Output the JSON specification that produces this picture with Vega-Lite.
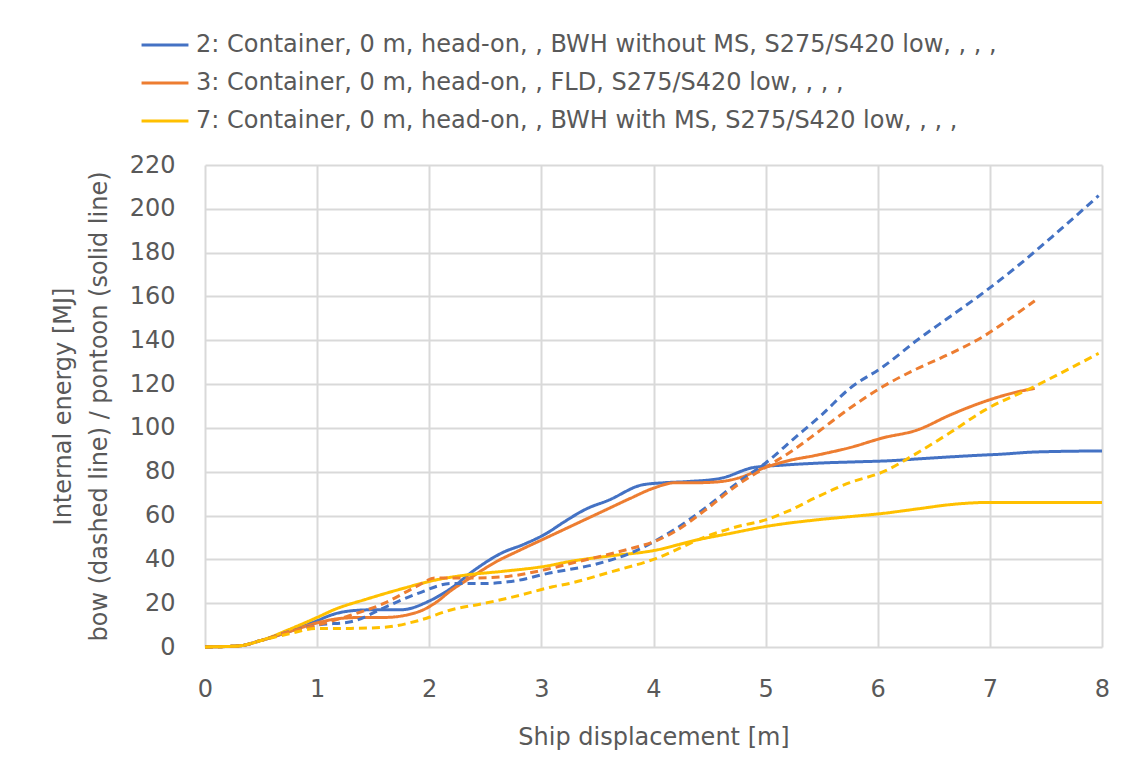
{
  "$schema": "https://vega.github.io/schema/vega-lite/v6.json",
  "width": 897,
  "height": 482,
  "autosize": {"type": "none"},
  "padding": {"left": 205, "top": 165, "right": 28, "bottom": 115},
  "background": "white",
  "config": {
    "font": "DejaVu Sans",
    "view": {"stroke": null},
    "axis": {
      "labelFont": "DejaVu Sans",
      "titleFont": "DejaVu Sans",
      "labelColor": "#595959",
      "titleColor": "#595959",
      "labelFontSize": 24,
      "titleFontSize": 24,
      "titleFontWeight": "normal",
      "gridColor": "#d9d9d9",
      "gridWidth": 2,
      "tickSize": 0,
      "domain": false,
      "labelFlush": false
    },
    "legend": {
      "labelFont": "DejaVu Sans",
      "labelColor": "#595959",
      "labelFontSize": 24
    }
  },
  "data": {
    "values": [
      {"s": "2", "p": "pontoon", "x": 0, "y": 0},
      {"s": "2", "p": "pontoon", "x": 0.3, "y": 0.5},
      {"s": "2", "p": "pontoon", "x": 0.5, "y": 3},
      {"s": "2", "p": "pontoon", "x": 0.75, "y": 7},
      {"s": "2", "p": "pontoon", "x": 1.0, "y": 12},
      {"s": "2", "p": "pontoon", "x": 1.15, "y": 15},
      {"s": "2", "p": "pontoon", "x": 1.3, "y": 16.5},
      {"s": "2", "p": "pontoon", "x": 1.5, "y": 17},
      {"s": "2", "p": "pontoon", "x": 1.75, "y": 17},
      {"s": "2", "p": "pontoon", "x": 2.0, "y": 21},
      {"s": "2", "p": "pontoon", "x": 2.2, "y": 27},
      {"s": "2", "p": "pontoon", "x": 2.4, "y": 35},
      {"s": "2", "p": "pontoon", "x": 2.65, "y": 43},
      {"s": "2", "p": "pontoon", "x": 2.85, "y": 47},
      {"s": "2", "p": "pontoon", "x": 3.05, "y": 52},
      {"s": "2", "p": "pontoon", "x": 3.2, "y": 57},
      {"s": "2", "p": "pontoon", "x": 3.4, "y": 63},
      {"s": "2", "p": "pontoon", "x": 3.6, "y": 67},
      {"s": "2", "p": "pontoon", "x": 3.9, "y": 74},
      {"s": "2", "p": "pontoon", "x": 4.1, "y": 75},
      {"s": "2", "p": "pontoon", "x": 4.3, "y": 75.5},
      {"s": "2", "p": "pontoon", "x": 4.6, "y": 77},
      {"s": "2", "p": "pontoon", "x": 4.9, "y": 82},
      {"s": "2", "p": "pontoon", "x": 5.15, "y": 83},
      {"s": "2", "p": "pontoon", "x": 5.5, "y": 84},
      {"s": "2", "p": "pontoon", "x": 5.8, "y": 84.5},
      {"s": "2", "p": "pontoon", "x": 6.1, "y": 85},
      {"s": "2", "p": "pontoon", "x": 6.4, "y": 86},
      {"s": "2", "p": "pontoon", "x": 6.9, "y": 87.5},
      {"s": "2", "p": "pontoon", "x": 7.1, "y": 88},
      {"s": "2", "p": "pontoon", "x": 7.4, "y": 89},
      {"s": "2", "p": "pontoon", "x": 8.0, "y": 89.5},

      {"s": "3", "p": "pontoon", "x": 0, "y": 0},
      {"s": "3", "p": "pontoon", "x": 0.3, "y": 0.5},
      {"s": "3", "p": "pontoon", "x": 0.5, "y": 3},
      {"s": "3", "p": "pontoon", "x": 0.75, "y": 7},
      {"s": "3", "p": "pontoon", "x": 1.0, "y": 11},
      {"s": "3", "p": "pontoon", "x": 1.2, "y": 13},
      {"s": "3", "p": "pontoon", "x": 1.4, "y": 13.5},
      {"s": "3", "p": "pontoon", "x": 1.6, "y": 13.5},
      {"s": "3", "p": "pontoon", "x": 1.9, "y": 16},
      {"s": "3", "p": "pontoon", "x": 2.05, "y": 20},
      {"s": "3", "p": "pontoon", "x": 2.2, "y": 26},
      {"s": "3", "p": "pontoon", "x": 2.35, "y": 31},
      {"s": "3", "p": "pontoon", "x": 2.6, "y": 39},
      {"s": "3", "p": "pontoon", "x": 2.8, "y": 44},
      {"s": "3", "p": "pontoon", "x": 3.05, "y": 50},
      {"s": "3", "p": "pontoon", "x": 3.3, "y": 56},
      {"s": "3", "p": "pontoon", "x": 3.55, "y": 62},
      {"s": "3", "p": "pontoon", "x": 3.8, "y": 68},
      {"s": "3", "p": "pontoon", "x": 4.0, "y": 72.5},
      {"s": "3", "p": "pontoon", "x": 4.2, "y": 75},
      {"s": "3", "p": "pontoon", "x": 4.4, "y": 75},
      {"s": "3", "p": "pontoon", "x": 4.6, "y": 75.5},
      {"s": "3", "p": "pontoon", "x": 4.75, "y": 77},
      {"s": "3", "p": "pontoon", "x": 5.0, "y": 82},
      {"s": "3", "p": "pontoon", "x": 5.2, "y": 85},
      {"s": "3", "p": "pontoon", "x": 5.45, "y": 87.5},
      {"s": "3", "p": "pontoon", "x": 5.75, "y": 91},
      {"s": "3", "p": "pontoon", "x": 6.05, "y": 95.5},
      {"s": "3", "p": "pontoon", "x": 6.35, "y": 99},
      {"s": "3", "p": "pontoon", "x": 6.65, "y": 106},
      {"s": "3", "p": "pontoon", "x": 6.95, "y": 112},
      {"s": "3", "p": "pontoon", "x": 7.25, "y": 116.5},
      {"s": "3", "p": "pontoon", "x": 7.4, "y": 118},

      {"s": "7", "p": "pontoon", "x": 0, "y": 0},
      {"s": "7", "p": "pontoon", "x": 0.3, "y": 0.5},
      {"s": "7", "p": "pontoon", "x": 0.5, "y": 3},
      {"s": "7", "p": "pontoon", "x": 0.75, "y": 8},
      {"s": "7", "p": "pontoon", "x": 1.0, "y": 13.5},
      {"s": "7", "p": "pontoon", "x": 1.15, "y": 17},
      {"s": "7", "p": "pontoon", "x": 1.45, "y": 22},
      {"s": "7", "p": "pontoon", "x": 1.75, "y": 26.5},
      {"s": "7", "p": "pontoon", "x": 2.05, "y": 30.5},
      {"s": "7", "p": "pontoon", "x": 2.35, "y": 33},
      {"s": "7", "p": "pontoon", "x": 2.65, "y": 34.5},
      {"s": "7", "p": "pontoon", "x": 3.05, "y": 37},
      {"s": "7", "p": "pontoon", "x": 3.25, "y": 39},
      {"s": "7", "p": "pontoon", "x": 3.6, "y": 41.5},
      {"s": "7", "p": "pontoon", "x": 4.0, "y": 44},
      {"s": "7", "p": "pontoon", "x": 4.4, "y": 49},
      {"s": "7", "p": "pontoon", "x": 4.7, "y": 52},
      {"s": "7", "p": "pontoon", "x": 5.0, "y": 55},
      {"s": "7", "p": "pontoon", "x": 5.45, "y": 58},
      {"s": "7", "p": "pontoon", "x": 5.75, "y": 59.5},
      {"s": "7", "p": "pontoon", "x": 6.05, "y": 61},
      {"s": "7", "p": "pontoon", "x": 6.35, "y": 63},
      {"s": "7", "p": "pontoon", "x": 6.65, "y": 65},
      {"s": "7", "p": "pontoon", "x": 7.0, "y": 66},
      {"s": "7", "p": "pontoon", "x": 8.0, "y": 66},

      {"s": "2", "p": "bow", "x": 0, "y": 0},
      {"s": "2", "p": "bow", "x": 0.3, "y": 0.5},
      {"s": "2", "p": "bow", "x": 0.5, "y": 3},
      {"s": "2", "p": "bow", "x": 0.75, "y": 7},
      {"s": "2", "p": "bow", "x": 1.0, "y": 10},
      {"s": "2", "p": "bow", "x": 1.3, "y": 11.5},
      {"s": "2", "p": "bow", "x": 1.6, "y": 18},
      {"s": "2", "p": "bow", "x": 1.9, "y": 24.5},
      {"s": "2", "p": "bow", "x": 2.2, "y": 29},
      {"s": "2", "p": "bow", "x": 2.5, "y": 29},
      {"s": "2", "p": "bow", "x": 2.8, "y": 30.5},
      {"s": "2", "p": "bow", "x": 3.05, "y": 33.5},
      {"s": "2", "p": "bow", "x": 3.5, "y": 38},
      {"s": "2", "p": "bow", "x": 3.8, "y": 43},
      {"s": "2", "p": "bow", "x": 4.0, "y": 48},
      {"s": "2", "p": "bow", "x": 4.2, "y": 54},
      {"s": "2", "p": "bow", "x": 4.45, "y": 63},
      {"s": "2", "p": "bow", "x": 4.75, "y": 75},
      {"s": "2", "p": "bow", "x": 5.0, "y": 84},
      {"s": "2", "p": "bow", "x": 5.25, "y": 95},
      {"s": "2", "p": "bow", "x": 5.5, "y": 106},
      {"s": "2", "p": "bow", "x": 5.75, "y": 118},
      {"s": "2", "p": "bow", "x": 6.05, "y": 128},
      {"s": "2", "p": "bow", "x": 6.35, "y": 140},
      {"s": "2", "p": "bow", "x": 6.65, "y": 151},
      {"s": "2", "p": "bow", "x": 6.95, "y": 162},
      {"s": "2", "p": "bow", "x": 7.25, "y": 174},
      {"s": "2", "p": "bow", "x": 7.55, "y": 187},
      {"s": "2", "p": "bow", "x": 7.97, "y": 206},

      {"s": "3", "p": "bow", "x": 0, "y": 0},
      {"s": "3", "p": "bow", "x": 0.3, "y": 0.5},
      {"s": "3", "p": "bow", "x": 0.5, "y": 3},
      {"s": "3", "p": "bow", "x": 0.75, "y": 7},
      {"s": "3", "p": "bow", "x": 1.0, "y": 10},
      {"s": "3", "p": "bow", "x": 1.3, "y": 14.5},
      {"s": "3", "p": "bow", "x": 1.6, "y": 20},
      {"s": "3", "p": "bow", "x": 1.9, "y": 28},
      {"s": "3", "p": "bow", "x": 2.05, "y": 31.5},
      {"s": "3", "p": "bow", "x": 2.35, "y": 31.5},
      {"s": "3", "p": "bow", "x": 2.65, "y": 32},
      {"s": "3", "p": "bow", "x": 3.05, "y": 35.5},
      {"s": "3", "p": "bow", "x": 3.25, "y": 38},
      {"s": "3", "p": "bow", "x": 3.8, "y": 45},
      {"s": "3", "p": "bow", "x": 4.0, "y": 48},
      {"s": "3", "p": "bow", "x": 4.2, "y": 53},
      {"s": "3", "p": "bow", "x": 4.45, "y": 62},
      {"s": "3", "p": "bow", "x": 4.75, "y": 74},
      {"s": "3", "p": "bow", "x": 5.0, "y": 82},
      {"s": "3", "p": "bow", "x": 5.25, "y": 90},
      {"s": "3", "p": "bow", "x": 5.45, "y": 97.5},
      {"s": "3", "p": "bow", "x": 5.75, "y": 109},
      {"s": "3", "p": "bow", "x": 6.05, "y": 119},
      {"s": "3", "p": "bow", "x": 6.35, "y": 127},
      {"s": "3", "p": "bow", "x": 6.65, "y": 134},
      {"s": "3", "p": "bow", "x": 6.95, "y": 142},
      {"s": "3", "p": "bow", "x": 7.25, "y": 152.5},
      {"s": "3", "p": "bow", "x": 7.4, "y": 158},

      {"s": "7", "p": "bow", "x": 0, "y": 0},
      {"s": "7", "p": "bow", "x": 0.3, "y": 0.5},
      {"s": "7", "p": "bow", "x": 0.5, "y": 3},
      {"s": "7", "p": "bow", "x": 0.75, "y": 6},
      {"s": "7", "p": "bow", "x": 1.0, "y": 8.5},
      {"s": "7", "p": "bow", "x": 1.3, "y": 8.5},
      {"s": "7", "p": "bow", "x": 1.6, "y": 9},
      {"s": "7", "p": "bow", "x": 1.9, "y": 12},
      {"s": "7", "p": "bow", "x": 2.2, "y": 17},
      {"s": "7", "p": "bow", "x": 2.5, "y": 20},
      {"s": "7", "p": "bow", "x": 2.8, "y": 23.5},
      {"s": "7", "p": "bow", "x": 3.1, "y": 27.5},
      {"s": "7", "p": "bow", "x": 3.25, "y": 29},
      {"s": "7", "p": "bow", "x": 3.6, "y": 34},
      {"s": "7", "p": "bow", "x": 4.0, "y": 40},
      {"s": "7", "p": "bow", "x": 4.5, "y": 51},
      {"s": "7", "p": "bow", "x": 4.75, "y": 55},
      {"s": "7", "p": "bow", "x": 5.0, "y": 58},
      {"s": "7", "p": "bow", "x": 5.2, "y": 62},
      {"s": "7", "p": "bow", "x": 5.46, "y": 68.5},
      {"s": "7", "p": "bow", "x": 5.75, "y": 75},
      {"s": "7", "p": "bow", "x": 6.05, "y": 80},
      {"s": "7", "p": "bow", "x": 6.35, "y": 88.5},
      {"s": "7", "p": "bow", "x": 6.65, "y": 98},
      {"s": "7", "p": "bow", "x": 6.95, "y": 108},
      {"s": "7", "p": "bow", "x": 7.4, "y": 119},
      {"s": "7", "p": "bow", "x": 7.97, "y": 134}
    ]
  },
  "mark": {"type": "line", "strokeWidth": 3, "interpolate": "monotone"},
  "encoding": {
    "x": {
      "field": "x",
      "type": "quantitative",
      "scale": {"domain": [0, 8], "nice": false},
      "axis": {
        "title": "Ship displacement [m]",
        "values": [0, 1, 2, 3, 4, 5, 6, 7, 8],
        "grid": true,
        "labelPadding": 30,
        "titlePadding": 24
      }
    },
    "y": {
      "field": "y",
      "type": "quantitative",
      "scale": {"domain": [0, 220], "nice": false},
      "axis": {
        "title": ["Internal energy [MJ]", "bow (dashed line) / pontoon (solid line)"],
        "values": [0, 20, 40, 60, 80, 100, 120, 140, 160, 180, 200, 220],
        "labelPadding": 30,
        "titlePadding": 18,
        "titleLineHeight": 36
      }
    },
    "color": {
      "field": "s",
      "type": "nominal",
      "scale": {"domain": ["2", "3", "7"], "range": ["#4472C4", "#ED7D31", "#FFC000"]},
      "legend": {
        "title": null,
        "orient": "none",
        "legendX": -65,
        "legendY": -139,
        "direction": "vertical",
        "symbolType": "stroke",
        "symbolSize": 2200,
        "symbolStrokeWidth": 3,
        "clipHeight": 38,
        "rowPadding": 0,
        "labelOffset": 6,
        "labelLimit": 1000,
        "labelExpr": "datum.value == '2' ? '2: Container, 0 m, head-on, , BWH without MS, S275/S420 low, , , ,' : datum.value == '3' ? '3: Container, 0 m, head-on, , FLD, S275/S420 low, , , ,' : '7: Container, 0 m, head-on, , BWH with MS, S275/S420 low, , , ,'"
      }
    },
    "strokeDash": {
      "field": "p",
      "type": "nominal",
      "scale": {"domain": ["bow", "pontoon"], "range": [[8, 5], [1, 0]]},
      "legend": null
    },
    "detail": {"field": "p"}
  }
}
